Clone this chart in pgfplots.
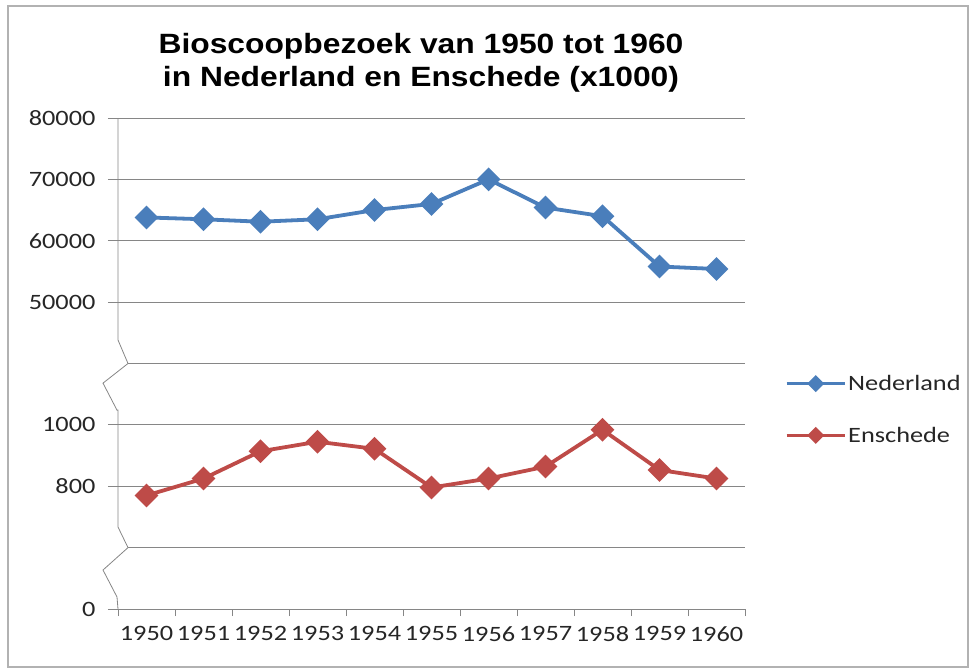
\documentclass[border=0pt]{standalone}
\usepackage{fontspec}
\setmainfont{Carlito}[FakeStretch=1.2]
\newfontfamily\titlefont{Liberation Sans}[FakeStretch=1.14]
\usepackage{pgfplots}
\usepackage{pgfplotstable}
\pgfplotsset{compat=1.18}
\definecolor{nlblue}{HTML}{4A7EBB}
\definecolor{ensred}{HTML}{BE4B48}
\definecolor{gridgray}{HTML}{868686}

% Bioscoopbezoek x1000
\pgfplotstableread{
year v
1950 63800
1951 63500
1952 63100
1953 63500
1954 65000
1955 66000
1956 70000
1957 65400
1958 64000
1959 55800
1960 55400
}\nederland

\pgfplotstableread{
year v
1950 770
1951 825
1952 914
1953 945
1954 922
1955 796
1956 825
1957 864
1958 984
1959 853
1960 825
}\enschede

\begin{document}
\begin{tikzpicture}
\useasboundingbox (0bp,0bp) rectangle (975bp,672bp);
\draw[gray!60, line width=1.2bp] (8bp,5bp) rectangle (968bp,666bp);
\node[font=\titlefont\bfseries\fontsize{28}{33}\selectfont, align=center] at (421bp,609bp)
  {Bioscoopbezoek van 1950 tot 1960\\in Nederland en Enschede (x1000)};
\begin{axis}[
  at={(118bp,63bp)}, anchor=south west,
  scale only axis, width=627bp, height=491bp,
  xmin=0, xmax=11, ymin=0, ymax=8,
  axis x line*=bottom, axis y line*=left,
  y axis line style={draw=none},
  axis line style={gridgray, line width=0.8bp},
  tick style={gridgray, line width=0.8bp},
  tick align=outside, major tick length=7bp,
  xtick={0,...,11},
  xticklabels={1950,1951,1952,1953,1954,1955,1956,1957,1958,1959,1960},
  x tick label as interval,
  ytick={0,2,3,5,6,7,8},
  yticklabels={0,800,1000,50000,60000,70000,80000},
  ymajorgrids, grid style={gridgray, line width=0.8bp},
  ticklabel style={font=\fontsize{22}{22}\selectfont, text=black!85},
  yticklabel style={xshift=-12bp},
  xticklabel style={yshift=-7bp},
  /pgf/number format/assume math mode=true,
  clip=false,
  legend style={at={(1.0638,0.4063)}, anchor=west, draw=none, fill=none,
    inner sep=0pt, row sep=31bp, font=\fontsize{22}{22}\selectfont,
    text=black!85},
  legend cell align=left,
  legend image code/.code={\draw[mark repeat=2,mark phase=2,#1,line width=3bp,mark size=4.5bp] plot coordinates {(0bp,0bp)(29bp,0bp)(58bp,0bp)};},
]
\addplot[nlblue, line width=3.8bp, mark=square*, mark size=6.5bp, mark options={rotate=45, solid}]
  table[x expr=\thisrow{year}-1949.5, y expr=5+(\thisrow{v}-50000)/10000] {\nederland};
\addlegendentry{Nederland}
\addplot[ensred, line width=3.8bp, mark=square*, mark size=6.5bp, mark options={rotate=45, solid}]
  table[x expr=\thisrow{year}-1949.5, y expr=2+(\thisrow{v}-800)/200] {\enschede};
\addlegendentry{Enschede}
% y tick marks
\draw[gridgray, line width=0.8bp] ([xshift=-10bp]axis cs:0,0) -- (axis cs:0,0);
\draw[gridgray, line width=0.8bp] ([xshift=-10bp]axis cs:0,2) -- (axis cs:0,2);
\draw[gridgray, line width=0.8bp] ([xshift=-10bp]axis cs:0,3) -- (axis cs:0,3);
\draw[gridgray, line width=0.8bp] ([xshift=-10bp]axis cs:0,5) -- (axis cs:0,5);
\draw[gridgray, line width=0.8bp] ([xshift=-10bp]axis cs:0,6) -- (axis cs:0,6);
\draw[gridgray, line width=0.8bp] ([xshift=-10bp]axis cs:0,7) -- (axis cs:0,7);
\draw[gridgray, line width=0.8bp] ([xshift=-10bp]axis cs:0,8) -- (axis cs:0,8);
% axis break gridlines
\draw[gridgray, line width=0.8bp] ([xshift=10bp]axis cs:0,4) -- (axis cs:11,4);
\draw[gridgray, line width=0.8bp] ([xshift=10bp]axis cs:0,1) -- (axis cs:11,1);
% broken y axis
\draw[gridgray, line width=0.8bp] (axis cs:0,8) -- (axis cs:0,4.383)
  -- ([xshift=10bp]axis cs:0,4) -- ([xshift=-15bp]axis cs:0,3.68)
  -- ([xshift=-1bp]axis cs:0,3.24) -- (axis cs:0,3.24) -- (axis cs:0,1.336)
  -- ([xshift=10bp]axis cs:0,1) -- ([xshift=-15bp]axis cs:0,0.635)
  -- ([xshift=-1bp]axis cs:0,0.196) -- (axis cs:0,0);
\end{axis}
\end{tikzpicture}
\end{document}
